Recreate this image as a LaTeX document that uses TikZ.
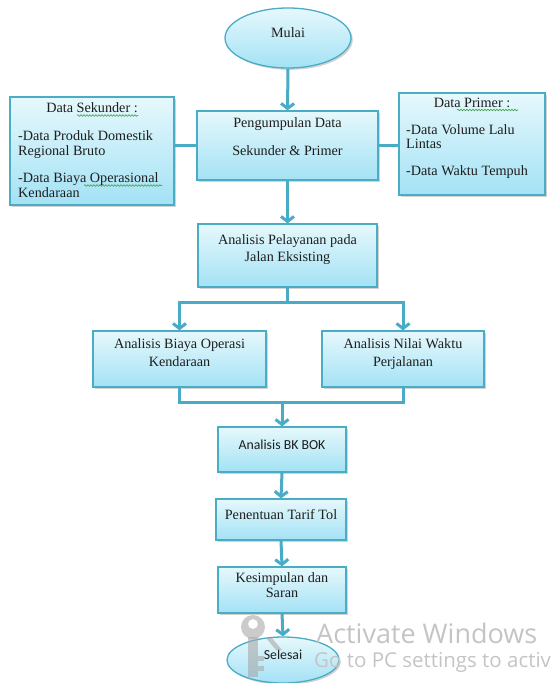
\documentclass[tikz,border=0pt]{standalone}
\usepackage{fontspec}
\setmainfont{Liberation Serif}
\newfontfamily\calibfont{Carlito}
\newfontfamily\wmfont{Open Sans}
\usetikzlibrary{arrows.meta,shapes.geometric,shadows,decorations.pathmorphing}
\definecolor{edgeblue}{HTML}{4BACC6}
\definecolor{linkblue}{HTML}{4AABC6}
\definecolor{topfill}{HTML}{E6F8FC}
\definecolor{botfill}{HTML}{A3E2F5}
\definecolor{txtcol}{HTML}{1E1E1E}
\definecolor{wmgray}{HTML}{C4C4C4}
\definecolor{keygray}{HTML}{A8A8A8}
\definecolor{spellgreen}{HTML}{3E9E3E}
\begin{document}
\begin{tikzpicture}[x=1pt,y=-1pt,
  shape box/.style={draw=edgeblue, line width=1.3pt, top color=topfill, bottom color=botfill,
    inner sep=0pt, drop shadow={shadow xshift=1.8pt, shadow yshift=-1.8pt, opacity=0.35, fill=gray}},
  rectbox/.style={shape box, rectangle},
  ovalbox/.style={shape box, ellipse},
  serif text/.style={font=\fontsize{14.2}{15}\selectfont, text=txtcol, inner sep=0pt, anchor=base},
  sans text/.style={font=\calibfont\fontsize{13.8}{15}\selectfont, text=txtcol, inner sep=0pt, anchor=base},
  link/.style={draw=linkblue, line width=3pt},
  flow/.style={link, -{Straight Barb[length=5pt,width=13pt]}},
  spellmark/.style={draw=spellgreen, line width=0.6pt, decorate, decoration={snake, amplitude=0.8pt, segment length=3pt}},
  wmtext/.style={text=wmgray, inner sep=0pt, anchor=base west}
]
\useasboundingbox (0,0) rectangle (553,683);

% shapes
\node[ovalbox, minimum width=126pt, minimum height=60pt] (mulai) at (288,38) {};
\node[rectbox, minimum width=181pt, minimum height=69pt] (peng) at (287.5,145.5) {};
\node[rectbox, minimum width=164pt, minimum height=108pt] (sek) at (92,151) {};
\node[rectbox, minimum width=146pt, minimum height=102pt] (prim) at (472,144) {};
\node[rectbox, minimum width=179pt, minimum height=63pt] (pel) at (287.5,255.5) {};
\node[rectbox, minimum width=173pt, minimum height=56pt] (bok) at (179.5,359) {};
\node[rectbox, minimum width=162pt, minimum height=56pt] (nwp) at (403,359) {};
\node[rectbox, minimum width=128pt, minimum height=45pt] (bkbok) at (282,449.5) {};
\node[rectbox, minimum width=130pt, minimum height=41pt] (tarif) at (281,519.5) {};
\node[rectbox, minimum width=128pt, minimum height=46pt] (kes) at (282,590) {};
\node[ovalbox, minimum width=112pt, minimum height=46pt] (sel) at (283,660) {};

% texts (multi-line nodes are anchored at the baseline of their last line)
\node[serif text] (mulaiT) at (288,37) {Mulai};
\node[serif text, align=center, font=\fontsize{14.2}{28}\selectfont] (pengT) at (287.5,155) {Pengumpulan Data\\Sekunder \& Primer};
\node[serif text] (sekT) at (92,112) {Data Sekunder :};
\node[serif text, anchor=base west, align=left] (sekL) at (18,197) {-Data Produk Domestik\\Regional Bruto\\[12pt]-Data Biaya Operasional\\Kendaraan};
\node[serif text] (primT) at (472,107) {Data Primer :};
\node[serif text, anchor=base west, align=left, font=\fontsize{14.2}{14.5}\selectfont] (primL) at (406,175) {-Data Volume Lalu\\Lintas\\[12pt]-Data Waktu Tempuh};
\node[serif text, align=center, font=\fontsize{14.2}{17}\selectfont] (pelT) at (287.5,261) {Analisis Pelayanan pada\\Jalan Eksisting};
\node[serif text, align=center, font=\fontsize{14.2}{18}\selectfont] (bokT) at (179.5,366) {Analisis Biaya Operasi\\Kendaraan};
\node[serif text, align=center, font=\fontsize{14.2}{18}\selectfont] (nwpT) at (403,366) {Analisis Nilai Waktu\\Perjalanan};
\node[sans text] (bkbokT) at (282,449) {Analisis BK BOK};
\node[serif text] (tarifT) at (281,519) {Penentuan Tarif Tol};
\node[serif text, align=center] (kesT) at (282,597) {Kesimpulan dan\\Saran};
\node[sans text] (selT) at (283,659) {Selesai};

% spell-check underlines
\draw[spellmark] (77,115.5) -- (138,115.5);
\draw[spellmark] (84,185.5) -- (162,185.5);
\draw[spellmark] (457,110) -- (518,110);

% connectors
\coordinate (split) at (287.5,302);
\coordinate (merge) at (282,402);
\draw[flow] (mulai.south) -- (peng.north);
\draw[link] (sek.east |- peng.west) -- (peng.west);
\draw[link] (peng.east) -- (prim.west |- peng.east);
\draw[flow] (peng.south) -- (pel.north);
\draw[link] (pel.south) -- (split);
\draw[flow] (split) -| (bok.north);
\draw[flow] (split) -| (nwp.north);
\draw[link] (bok.south) -- (bok.south |- merge) -- (nwp.south |- merge) -- (nwp.south);
\draw[flow] (merge) -- (bkbok.north);
\draw[flow] (bkbok.south) -- (tarif.north);
\draw[flow] (tarif.south) -- (kes.north);
\draw[flow] (kes.south) -- (sel.north);

% watermark
\begin{scope}[opacity=0.6]
\fill[keygray, even odd rule] (253,627) circle (12) (253,624) circle (5);
\fill[keygray] (248,637) rectangle (258,677);
\fill[keygray] (258,656) rectangle (264,661);
\fill[keygray] (258,666) rectangle (264,671);
\fill[keygray] (266,638) -- (272,638) -- (282,650) -- (276,650) -- cycle;
\end{scope}
\node[wmtext, font=\wmfont\fontsize{27}{30}\selectfont] (wm1) at (316,643) {Activate Windows};
\node[wmtext, font=\wmfont\fontsize{20.5}{23}\selectfont] (wm2) at (314,667) {Go to PC settings to activ};
\end{tikzpicture}
\end{document}
